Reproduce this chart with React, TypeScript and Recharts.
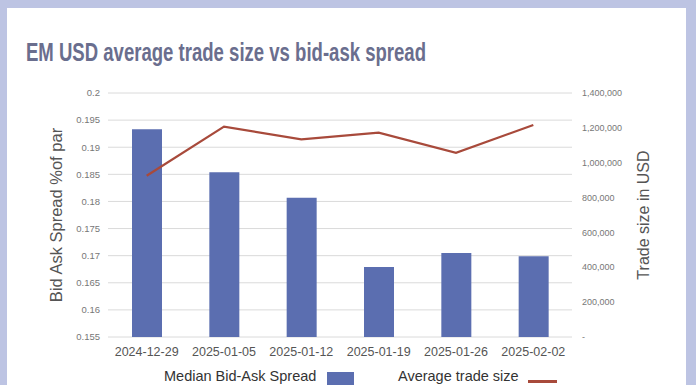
import {
  Bar,
  CartesianGrid,
  ComposedChart,
  Line,
  XAxis,
  YAxis,
} from "recharts";

const WEEKS = [
  "2024-12-29",
  "2025-01-05",
  "2025-01-12",
  "2025-01-19",
  "2025-01-26",
  "2025-02-02",
];
const MEDIAN_SPREAD = [0.1933, 0.1854, 0.1807, 0.1679, 0.1705, 0.1699];
const AVG_TRADE_SIZE = [925000, 1207000, 1134000, 1172000, 1057000, 1216000];

const SPREAD_TICKS = [0.155, 0.16, 0.165, 0.17, 0.175, 0.18, 0.185, 0.19, 0.195, 0.2];
const SIZE_TICKS = [0, 200000, 400000, 600000, 800000, 1000000, 1200000, 1400000];

const SPREAD_NAME = "Median Bid-Ask Spread";
const SIZE_NAME = "Average trade size";

const BLUE = "#5b6eb0";
const RED = "#a84a3b";
const FONT = "'Liberation Sans', Arial, sans-serif";

const data = WEEKS.map((week, i) => ({
  week,
  spread: MEDIAN_SPREAD[i],
  size: AVG_TRADE_SIZE[i],
}));

const fmtSpread = (v: number) => String(Number(v.toFixed(3)));
const fmtSize = (v: number) => (v === 0 ? "-" : v.toLocaleString("en-US"));

function LeftTitle({ viewBox }: any) {
  const cy = viewBox.y + viewBox.height / 2;
  return (
    <text
      x={56}
      y={cy}
      transform={`rotate(-90 56 ${cy})`}
      textAnchor="middle"
      dominantBaseline="central"
      fontSize={16.5}
      fill="#555"
      fontFamily={FONT}
    >
      Bid Ask Spread %of par
    </text>
  );
}

function RightTitle({ viewBox }: any) {
  const cy = viewBox.y + viewBox.height / 2;
  return (
    <text
      x={643}
      y={cy}
      transform={`rotate(-90 643 ${cy})`}
      textAnchor="middle"
      dominantBaseline="central"
      fontSize={16}
      fill="#555"
      fontFamily={FONT}
    >
      Trade size in USD
    </text>
  );
}

// legend sits at the very bottom edge, like the original
const legendText = {
  position: "absolute" as const,
  top: 368,
  fontSize: 14.5,
  color: "#333",
  whiteSpace: "nowrap" as const,
  lineHeight: "16px",
};

export default function App() {
  return (
    <div
      style={{
        position: "absolute",
        left: 0,
        top: 0,
        width: 696,
        height: 385,
        overflow: "hidden",
        background: "#bdc4e3",
        fontFamily: FONT,
      }}
    >
      <div
        style={{
          position: "absolute",
          left: 7,
          top: 8,
          width: 679,
          height: 400,
          background: "#fff",
        }}
      />
      <svg
        width={696}
        height={80}
        style={{ position: "absolute", left: 0, top: 0 }}
      >
        <text
          x={26}
          y={61}
          fontSize={26.5}
          fontWeight="bold"
          fill="#6a6e8e"
          fontFamily={FONT}
          textLength={400}
          lengthAdjust="spacingAndGlyphs"
        >
          EM USD average trade size vs bid-ask spread
        </text>
      </svg>
      <div style={{ position: "absolute", left: 0, top: 0 }}>
        <ComposedChart
          width={696}
          height={385}
          data={data}
          margin={{ top: 93, right: 0, bottom: 0, left: 0 }}
        >
          <CartesianGrid yAxisId="left" vertical={false} stroke="#dadada" />
          <XAxis
            dataKey="week"
            height={48}
            tickSize={0}
            tickMargin={10}
            axisLine={false}
            tick={{ fill: "#555", fontSize: 12.5, fontFamily: FONT }}
          />
          <YAxis
            yAxisId="left"
            width={108}
            domain={[0.155, 0.2]}
            ticks={SPREAD_TICKS}
            allowDataOverflow
            tickFormatter={fmtSpread}
            tickSize={0}
            tickMargin={8}
            axisLine={false}
            tick={{ fill: "#777", fontSize: 9.5, fontFamily: FONT }}
            label={{ content: LeftTitle }}
          />
          <YAxis
            yAxisId="right"
            orientation="right"
            width={124}
            domain={[0, 1400000]}
            ticks={SIZE_TICKS}
            tickFormatter={fmtSize}
            tickSize={0}
            tickMargin={10}
            axisLine={false}
            tick={{ fill: "#777", fontSize: 9, fontFamily: FONT, textAnchor: "start" }}
            label={{ content: RightTitle }}
          />
          <Bar
            yAxisId="left"
            dataKey="spread"
            name={SPREAD_NAME}
            fill={BLUE}
            barSize={30}
            isAnimationActive={false}
          />
          <Line
            yAxisId="right"
            dataKey="size"
            name={SIZE_NAME}
            stroke={RED}
            strokeWidth={2.2}
            dot={false}
            activeDot={false}
            isAnimationActive={false}
          />
        </ComposedChart>
      </div>
      <div style={{ ...legendText, left: 164 }}>{SPREAD_NAME}</div>
      <div
        style={{
          position: "absolute",
          left: 327,
          top: 372,
          width: 27,
          height: 13,
          background: BLUE,
        }}
      />
      <div style={{ ...legendText, left: 398 }}>{SIZE_NAME}</div>
      <div
        style={{
          position: "absolute",
          left: 528,
          top: 380,
          width: 29,
          height: 3,
          background: RED,
        }}
      />
    </div>
  );
}
